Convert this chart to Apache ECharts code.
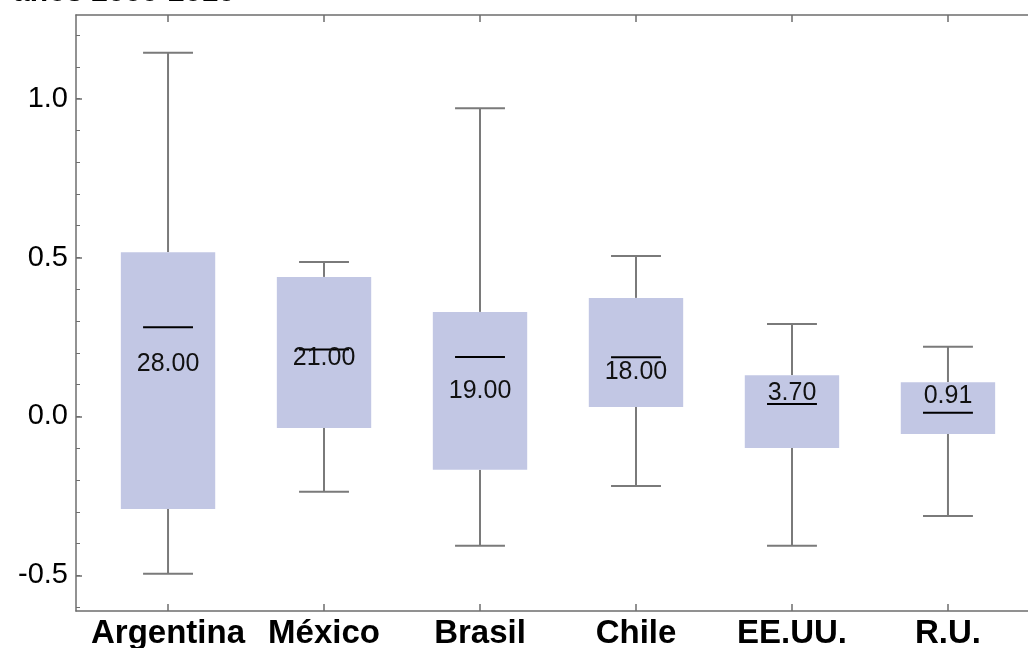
<!DOCTYPE html>
<html>
<head>
<meta charset="utf-8">
<script src="https://cdn.jsdelivr.net/npm/echarts@6/dist/echarts.min.js"></script>
<style>
html,body{margin:0;padding:0;background:#fff;}
#chart{width:1028px;height:648px;}
</style>
</head>
<body>
<div id="chart"></div>
<script>
// ---- data ----
const categories = ['Argentina', 'México', 'Brasil', 'Chile', 'EE.UU.', 'R.U.'];
const whiskerLow  = [-0.495, -0.237, -0.407, -0.219, -0.407, -0.313];
const boxLow      = [-0.291, -0.036, -0.168,  0.030, -0.099, -0.055];
const medians     = [ 0.281,  0.211,  0.187,  0.186,  0.039,  0.012];
const boxHigh     = [ 0.517,  0.439,  0.329,  0.373,  0.130,  0.108];
const whiskerHigh = [ 1.144,  0.486,  0.970,  0.505,  0.291,  0.219];
const boxLabels   = ['28.00', '21.00', '19.00', '18.00', '3.70', '0.91'];
const yTickLabels = [-0.5, 0.0, 0.5, 1.0];
const yMinorTicks = [-0.6,-0.5,-0.4,-0.3,-0.2,-0.1,0,0.1,0.2,0.3,0.4,0.5,0.6,0.7,0.8,0.9,1.0,1.1,1.2];
const titleText = 'años 2000-2010';

// label offsets from the median line (pixels, style only)
const labelDy = [37, 9, 34, 15, -11, -17];

const xPos = categories.map((c, i) => i + 1);
const seriesData = categories.map((c, i) => [xPos[i], whiskerLow[i], boxLow[i], medians[i], boxHigh[i], whiskerHigh[i], i]);

const chart = echarts.init(document.getElementById('chart'));
const axisColor = '#6e6e6e';
const FONT = 'Liberation Sans, Arial, Helvetica, sans-serif';

const xAxisBase = {
  type: 'value', min: 0.41, max: 6.59,
  splitLine: {show: false},
  axisLine: {show: true, onZero: false, lineStyle: {color: axisColor, width: 1.5}},
  axisTick: {show: true, inside: true, length: 7, customValues: xPos, lineStyle: {color: axisColor, width: 1.5}}
};

chart.setOption({
  animation: false,
  backgroundColor: '#fff',
  graphic: [{
    type: 'text', left: 13, top: -22,
    style: {text: titleText, font: 'bold 30px ' + FONT, fill: '#000'}
  }],
  grid: {left: 76, top: 15, width: 964, bottom: 37, containLabel: false, outerBoundsMode: 'none'},
  xAxis: [
    Object.assign({}, xAxisBase, {
      position: 'bottom',
      axisLabel: {
        show: true, customValues: xPos, margin: 6,
        formatter: v => categories[Math.round(v) - 1] || '',
        fontFamily: FONT, fontWeight: 'bold', fontSize: 33, color: '#000'
      }
    }),
    Object.assign({}, xAxisBase, {position: 'top', axisLabel: {show: false}})
  ],
  yAxis: [
    {
      type: 'value', min: -0.612, max: 1.263, position: 'left',
      splitLine: {show: false},
      axisLine: {show: true, onZero: false, lineStyle: {color: axisColor, width: 1.5}},
      axisTick: {show: true, inside: true, length: 6, customValues: yTickLabels, lineStyle: {color: axisColor, width: 1.5}},
      axisLabel: {
        show: true, customValues: yTickLabels, margin: 8,
        formatter: v => v.toFixed(1),
        fontFamily: FONT, fontSize: 29, color: '#000'
      }
    },
    {
      type: 'value', min: -0.612, max: 1.263, position: 'left',
      splitLine: {show: false},
      axisLine: {show: false},
      axisTick: {show: true, inside: true, length: 4, customValues: yMinorTicks, lineStyle: {color: axisColor, width: 1}},
      axisLabel: {show: false}
    }
  ],
  series: [{
    type: 'custom',
    xAxisIndex: 0, yAxisIndex: 0,
    encode: {x: 0, y: [1, 2, 3, 4, 5]},
    data: seriesData,
    renderItem: function (params, api) {
      const x = api.value(0);
      const idx = api.value(6);
      const pLow = api.coord([x, api.value(1)]);
      const pQ1 = api.coord([x, api.value(2)]);
      const pMed = api.coord([x, api.value(3)]);
      const pQ3 = api.coord([x, api.value(4)]);
      const pHigh = api.coord([x, api.value(5)]);
      const unit = api.size([1, 0])[0];
      const bw = unit * 0.605;
      const cw = unit * 0.32;
      const cx = pMed[0];
      const wStyle = {stroke: '#7a7a7a', lineWidth: 2};
      return {
        type: 'group',
        children: [
          {type: 'line', shape: {x1: cx, y1: pHigh[1], x2: cx, y2: pQ3[1]}, style: wStyle},
          {type: 'line', shape: {x1: cx, y1: pQ1[1], x2: cx, y2: pLow[1]}, style: wStyle},
          {type: 'line', shape: {x1: cx - cw / 2, y1: pHigh[1], x2: cx + cw / 2, y2: pHigh[1]}, style: wStyle},
          {type: 'line', shape: {x1: cx - cw / 2, y1: pLow[1], x2: cx + cw / 2, y2: pLow[1]}, style: wStyle},
          {type: 'rect', shape: {x: cx - bw / 2, y: pQ3[1], width: bw, height: pQ1[1] - pQ3[1]}, style: {fill: '#c2c7e4'}},
          {type: 'line', shape: {x1: cx - cw / 2, y1: pMed[1], x2: cx + cw / 2, y2: pMed[1]}, style: {stroke: '#000', lineWidth: 2}},
          {type: 'text', x: cx, y: pMed[1] + labelDy[idx],
           style: {text: boxLabels[idx], font: '25px ' + FONT, fill: '#111', align: 'center', verticalAlign: 'middle'}}
        ]
      };
    }
  }]
});
</script>
</body>
</html>
